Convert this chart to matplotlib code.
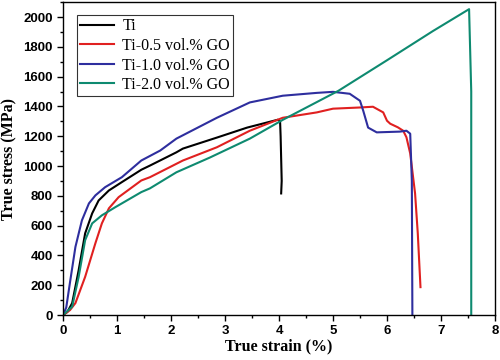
import matplotlib
matplotlib.use("Agg")
import matplotlib.pyplot as plt
from matplotlib.ticker import MultipleLocator

# Ti
ti_x = [0.0, 0.08, 0.17, 0.29, 0.41, 0.54, 0.66, 0.85, 1.09, 1.45, 1.61, 2.1, 2.22, 2.85, 3.41, 3.98,
        4.02, 4.03, 4.05, 4.04]
ti_y = [0, 20, 80, 301, 548, 682, 769, 836, 892, 975, 1003, 1092, 1117, 1191, 1258, 1311,
        1300, 1200, 900, 816]

# Ti-0.5 vol.% GO
r05_x = [0.0, 0.13, 0.23, 0.41, 0.6, 0.72, 0.85, 1.03, 1.45, 1.61, 2.22, 2.85, 3.46, 4.07, 4.7, 5.0,
         5.5, 5.74, 5.93, 6.0, 6.06, 6.2, 6.3, 6.36, 6.43, 6.52, 6.57, 6.62]
r05_y = [0, 33, 80, 256, 482, 615, 716, 791, 903, 925, 1037, 1126, 1237, 1324, 1360, 1385,
         1393, 1398, 1360, 1304, 1284, 1260, 1237, 1193, 1084, 816, 548, 187]

# Ti-1.0 vol.% GO
r10_x = [0.0, 0.06, 0.13, 0.23, 0.35, 0.48, 0.6, 0.78, 1.09, 1.45, 1.8, 2.1, 2.85, 3.46, 4.07, 4.7, 5.0,
         5.31, 5.5, 5.56, 5.65, 5.81, 6.24, 6.36, 6.43, 6.46, 6.47]
r10_y = [0, 50, 220, 457, 635, 749, 803, 858, 925, 1037, 1104, 1184, 1324, 1427, 1472, 1491, 1498,
         1485, 1438, 1371, 1258, 1226, 1231, 1237, 1217, 900, 0]

# Ti-2.0 vol.% GO
r20_x = [0.0, 0.17, 0.29, 0.41, 0.54, 0.72, 0.97, 1.45, 1.61, 2.1, 2.72, 3.46, 4.07, 5.1, 6.0, 6.85,
         7.52, 7.56, 7.56]
r20_y = [0, 56, 256, 502, 615, 669, 724, 825, 850, 958, 1057, 1184, 1310, 1505, 1710, 1906,
         2053, 1500, 0]

labels = ["Ti", "Ti-0.5 vol.% GO", "Ti-1.0 vol.% GO", "Ti-2.0 vol.% GO"]
colors = ["#000000", "#e02020", "#2e2e9e", "#0e8a70"]

fig = plt.figure(figsize=(5, 3.6), dpi=100)
ax = fig.add_axes([0.126, 0.125, 0.864, 0.869])

for xs, ys, lab, c in zip([ti_x, r05_x, r10_x, r20_x], [ti_y, r05_y, r10_y, r20_y], labels, colors):
    ax.plot(xs, ys, color=c, lw=1.5, label=lab)

ax.set_xlim(0, 8)
ax.set_ylim(0, 2100)
ax.xaxis.set_major_locator(MultipleLocator(1))
ax.xaxis.set_minor_locator(MultipleLocator(0.5))
ax.yaxis.set_major_locator(MultipleLocator(200))
ax.yaxis.set_minor_locator(MultipleLocator(100))
ax.tick_params(which="both", direction="out", top=False, right=False, width=1)
ax.tick_params(which="major", length=4)
ax.tick_params(which="minor", length=2.5)
for lbl in ax.get_xticklabels() + ax.get_yticklabels():
    lbl.set_fontfamily("Liberation Sans")
    lbl.set_fontweight("bold")
    lbl.set_fontsize(9.5)
for s in ax.spines.values():
    s.set_linewidth(1.0)

ax.set_xlabel("True strain (%)", fontfamily="Liberation Serif", fontweight="bold", fontsize=11.5, labelpad=1)
ax.set_ylabel("True stress (MPa)", fontfamily="Liberation Serif", fontweight="bold", fontsize=11.5, labelpad=4)

leg = ax.legend(loc="upper left", prop={"family": "Liberation Serif", "size": 11.5}, frameon=True,
                fancybox=False, edgecolor="black", handlelength=2.1, borderpad=0.2, labelspacing=0.22,
                bbox_to_anchor=(0.032, 0.958), borderaxespad=0, handletextpad=0.55)
leg.get_frame().set_linewidth(0.8)

fig.savefig("out.png", dpi=100)
